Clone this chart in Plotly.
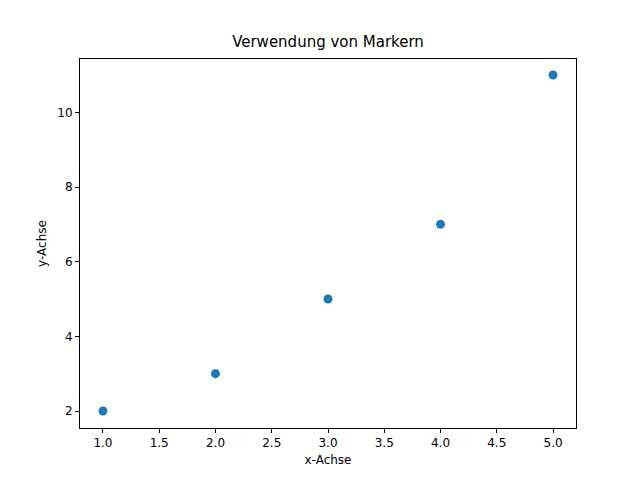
import plotly.graph_objects as go

x_values = [1, 2, 3, 4, 5]
y_values = [2, 3, 5, 7, 11]
x_ticks = [1.0, 1.5, 2.0, 2.5, 3.0, 3.5, 4.0, 4.5, 5.0]
y_ticks = [2, 4, 6, 8, 10]

fig = go.Figure(go.Scatter(x=x_values, y=y_values, mode="markers",
                           marker=dict(color="#1f77b4", size=9)))
axis_common = dict(showgrid=False, zeroline=False, showline=True, mirror=True,
                   linecolor="black", linewidth=1, ticks="outside", ticklen=4,
                   tickcolor="black", tickfont=dict(size=12, color="black"))
fig.update_layout(
    width=640, height=480, plot_bgcolor="white", paper_bgcolor="white",
    margin=dict(l=72, r=72, t=51, b=60),
    font=dict(family="DejaVu Sans", color="black"),
    title=dict(text="Verwendung von Markern", x=0.5, xanchor="center", y=0.94, font=dict(size=15)),
    xaxis=dict(range=[0.796, 5.204], tickvals=x_ticks, ticktext=[f"{v:.1f}" for v in x_ticks],
               title=dict(text="x-Achse", font=dict(size=12), standoff=6), **axis_common),
    yaxis=dict(range=[1.545, 11.43], tickvals=y_ticks,
               title=dict(text="y-Achse", font=dict(size=12), standoff=8), **axis_common),
    showlegend=False,
)
fig.write_html("out.html")
